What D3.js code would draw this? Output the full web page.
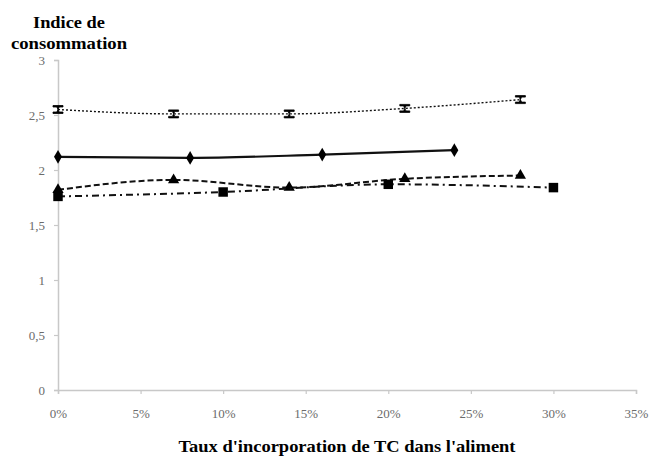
<!DOCTYPE html>
<html lang="fr">
<head>
  <meta charset="UTF-8">
  <title>Indice de consommation</title>
  <style>
    body { margin: 0; background: #fff; }
  </style>
</head>
<body>

  <svg id="svg" width="649" height="457"></svg>

  <script src="https://d3js.org/d3.v7.min.js"></script>
  <script>
    // --------------- Data ---------------
    const xTicks = [0, 0.05, 0.10, 0.15, 0.20, 0.25, 0.30, 0.35]
    const yTicks = [0, 0.5, 1, 1.5, 2, 2.5, 3]

    const dottedX = [0, 0.07, 0.14, 0.21, 0.28]
    const dottedY = [2.55, 2.51, 2.51, 2.56, 2.64]

    const solidX = [0, 0.08, 0.16, 0.24]
    const solidY = [2.12, 2.11, 2.14, 2.18]

    const dashedX = [0, 0.07, 0.14, 0.21, 0.28]
    const dashedY = [1.82, 1.91, 1.84, 1.92, 1.95]

    const dashDotX = [0, 0.10, 0.20, 0.30]
    const dashDotY = [1.76, 1.80, 1.87, 1.84]

    const series = [
      { xs: dottedX, ys: dottedY, dash: '2,2', width: 1.4, marker: 'hourglass' },
      { xs: solidX, ys: solidY, dash: null, width: 2.2, marker: 'diamond' },
      { xs: dashedX, ys: dashedY, dash: '6,3', width: 2, marker: 'triangle' },
      { xs: dashDotX, ys: dashDotY, dash: '7,4,2,4', width: 2, marker: 'square' }
    ]

    // --------------- Scales ---------------
    const xScale = d3.scaleLinear()
      .domain([0, 0.35])
      .range([58, 636])

    const yScale = d3.scaleLinear()
      .domain([0, 3])
      .range([390, 60])

    const svg = d3.select('#svg')
    const axisColor = '#c8c8c8'
    const labelColor = '#6b6b6b'
    const serif = "'Liberation Serif', 'Times New Roman', serif"

    // --------------- Axes ---------------
    const yAxis = svg.append('g')
      .attr('transform', `translate(${xScale(0)},0)`)
      .call(d3.axisLeft(yScale).tickValues(yTicks).tickSize(4).tickPadding(9)
        .tickFormat(d => String(d).replace('.', ',')))
    const xAxis = svg.append('g')
      .attr('transform', `translate(0,${yScale(0)})`)
      .call(d3.axisBottom(xScale).tickValues(xTicks).tickSize(4).tickPadding(15)
        .tickFormat(d => Math.round(d * 100) + '%'))

    ;[yAxis, xAxis].forEach(ax => {
      ax.select('.domain').attr('stroke', axisColor).attr('stroke-width', 1.5)
      ax.selectAll('.tick line').attr('stroke', axisColor).attr('stroke-width', 1.2)
      ax.selectAll('.tick text')
        .attr('fill', labelColor)
        .style('font-family', serif)
        .style('font-size', '13px')
    })

    // --------------- Lines ---------------
    const line = d3.line()
      .x(d => xScale(d[0]))
      .y(d => yScale(d[1]))
      .curve(d3.curveMonotoneX)

    const symbolPath = (type) => {
      if (type === 'diamond') return d3.symbol(d3.symbolDiamond, 55)()
      if (type === 'triangle') return d3.symbol(d3.symbolTriangle, 55)()
      if (type === 'square') return d3.symbol(d3.symbolSquare, 90)()
      // hourglass-like marker
      return 'M-5,-4H5V-2.5H1.2L0,0L1.2,2.5H5V4H-5V2.5H-1.2L0,0L-1.2,-2.5H-5Z'
    }

    series.forEach(s => {
      const pts = s.xs.map((x, i) => [x, s.ys[i]])
      svg.append('path')
        .attr('d', line(pts))
        .attr('fill', 'none')
        .attr('stroke', '#111')
        .attr('stroke-width', s.width)
        .attr('stroke-dasharray', s.dash)

      svg.selectAll(null)
        .data(pts)
        .enter()
        .append('path')
        .attr('transform', d => `translate(${xScale(d[0])},${yScale(d[1])})`)
        .attr('d', symbolPath(s.marker))
        .attr('fill', '#000')
        .attr('stroke', s.marker === 'hourglass' ? '#000' : 'none')
        .attr('stroke-width', 0.8)
    })

    // --------------- Titles ---------------
    const title = (x, y, txt, len) => svg.append('text')
      .attr('x', x)
      .attr('y', y)
      .attr('text-anchor', 'middle')
      .attr('textLength', len)
      .attr('lengthAdjust', 'spacingAndGlyphs')
      .style('font-family', serif)
      .style('font-weight', 'bold')
      .style('font-size', '17px')
      .text(txt)

    title(69, 28, 'Indice de', 72)
    title(69, 49, 'consommation', 116)
    title(347, 452, "Taux d'incorporation de TC dans l'aliment", 337)
  </script>
</body>
</html>
